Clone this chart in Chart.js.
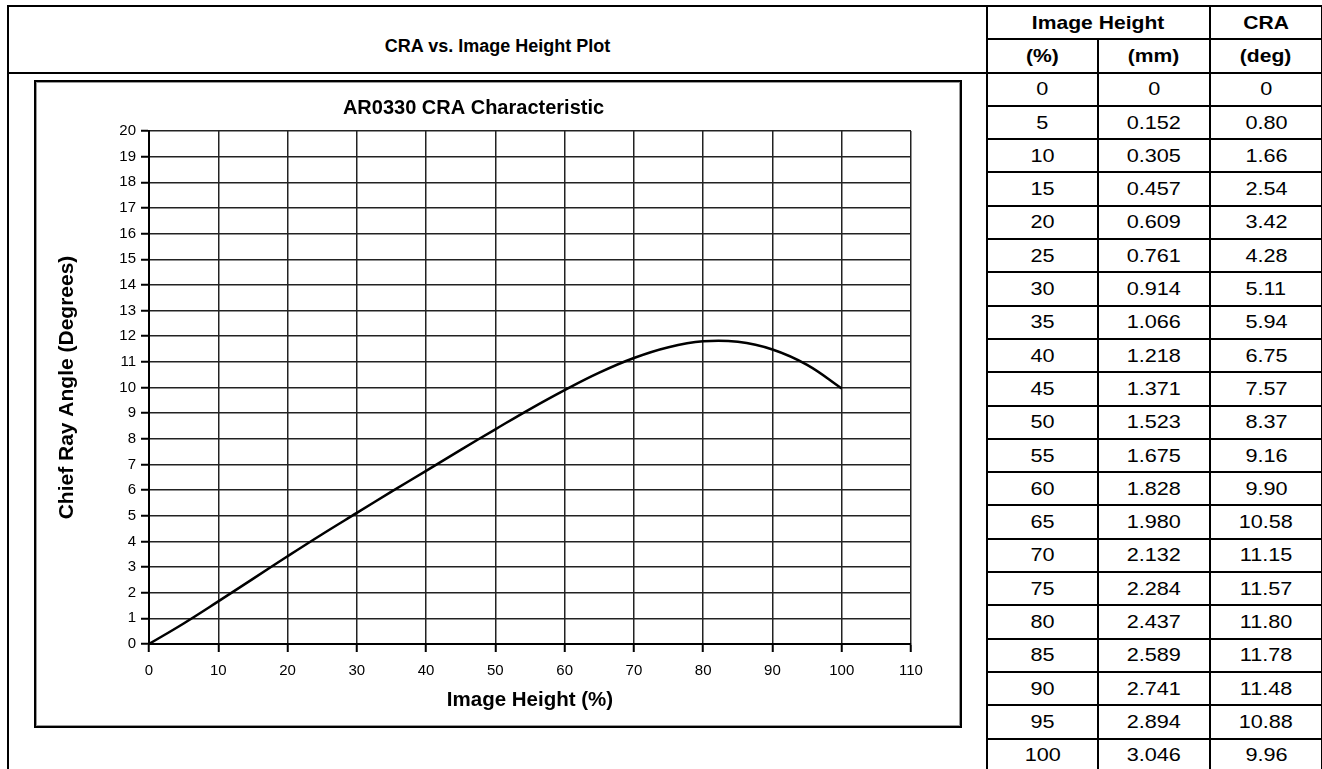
<!DOCTYPE html>
<html>
<head>
<meta charset="utf-8">
<script src="https://cdn.jsdelivr.net/npm/chart.js@4.4.1/dist/chart.umd.min.js"></script>
<style>
  html, body { margin: 0; padding: 0; background: #fff; }
  body { width: 1322px; height: 769px; position: relative; overflow: hidden; font-family: "Liberation Sans", Arial, sans-serif; color: #000; }
  #sheet { position: absolute; left: 7px; top: 5px; border-collapse: collapse; table-layout: fixed; width: 1314px; }
  #sheet td { border: 2px solid #000; padding: 0; text-align: center; vertical-align: middle; height: 31.3px; font-size: 19px; }
  #sheet td.hd { font-weight: bold; font-size: 18.5px; }
  #sheet td.plotHead { font-weight: bold; font-size: 18px; vertical-align: bottom; padding-bottom: 15px; }
  #sheet td.plotCell { border-bottom: none; }
  .w { display: inline-block; transform: scaleX(1.14); }
  #box { position: absolute; left: 34px; top: 80px; width: 924px; height: 644px; border: 2px solid #000; box-shadow: inset 0 0 0 1px #999; background: #fff; }
  #box canvas { position: absolute; left: 0; top: 0; }
</style>
</head>
<body>
<table id="sheet">
  <colgroup><col style="width:979px"><col style="width:111px"><col style="width:112px"><col style="width:112px"></colgroup>
  <tbody id="rows"></tbody>
</table>
<div id="box"><canvas id="cra-chart" width="924" height="644"></canvas></div>
<script>
const heightPct = [0, 5, 10, 15, 20, 25, 30, 35, 40, 45, 50, 55, 60, 65, 70, 75, 80, 85, 90, 95, 100];
const heightMm = [0, 0.152, 0.305, 0.457, 0.609, 0.761, 0.914, 1.066, 1.218, 1.371, 1.523, 1.675, 1.828, 1.980, 2.132, 2.284, 2.437, 2.589, 2.741, 2.894, 3.046];
const craDeg = [0, 0.80, 1.66, 2.54, 3.42, 4.28, 5.11, 5.94, 6.75, 7.57, 8.37, 9.16, 9.90, 10.58, 11.15, 11.57, 11.80, 11.78, 11.48, 10.88, 9.96];

const xTicks = { min: 0, max: 110, step: 10 };
const yTicks = { min: 0, max: 20, step: 1 };

const FONT = '"Liberation Sans", Arial, sans-serif';

function fmt(v, digits) {
    return v === 0 ? '0' : v.toFixed(digits);
}

// build the table on the right
const tbody = document.getElementById('rows');
let html = '';
html += '<tr><td class="hd plotHead" rowspan="2">CRA vs. Image Height Plot</td>' +
        '<td class="hd" colspan="2"><span class="w">Image Height</span></td>' +
        '<td class="hd"><span class="w">CRA</span></td></tr>';
html += '<tr><td class="hd"><span class="w">(%)</span></td><td class="hd"><span class="w">(mm)</span></td>' +
        '<td class="hd"><span class="w">(deg)</span></td></tr>';
heightPct.forEach((p, i) => {
    html += '<tr>';
    if (i === 0) html += `<td class="plotCell" rowspan="${heightPct.length}"></td>`;
    html += `<td><span class="w">${p}</span></td><td><span class="w">${fmt(heightMm[i], 3)}</span></td><td><span class="w">${fmt(craDeg[i], 2)}</span></td>`;
    html += '</tr>';
});
tbody.innerHTML = html;

// the plot
const ctx = document.getElementById('cra-chart').getContext('2d');
new Chart(ctx, {
    type: 'line',
    data: {
        datasets: [{
            data: heightPct.map((p, i) => ({ x: p, y: craDeg[i] })),
            borderColor: '#000',
            borderWidth: 2.5,
            pointRadius: 0,
            fill: false,
            tension: 0.4
        }]
    },
    options: {
        responsive: false,
        animation: false,
        layout: { padding: { left: 0, right: 49, top: 0, bottom: 0 } },
        plugins: {
            legend: { display: false },
            tooltip: { enabled: false },
            title: {
                display: true,
                text: 'AR0330 CRA Characteristic',
                color: '#000',
                font: { family: FONT, size: 20, weight: 'bold' },
                padding: { top: 14, bottom: 11 }
            }
        },
        scales: {
            x: {
                type: 'linear',
                min: xTicks.min,
                max: xTicks.max,
                ticks: { stepSize: xTicks.step, color: '#000', font: { family: FONT, size: 15 }, padding: 10, maxRotation: 0 },
                grid: { color: '#222', lineWidth: 1.5, tickLength: 8, tickColor: '#000', tickWidth: 2 },
                border: { color: '#000', width: 2 },
                title: {
                    display: true,
                    text: 'Image Height (%)',
                    color: '#000',
                    font: { family: FONT, size: 20.5, weight: 'bold' },
                    padding: { top: 0, bottom: 13 }
                },
                afterFit(scale) { scale.height = 82; }
            },
            y: {
                min: yTicks.min,
                max: yTicks.max,
                ticks: { stepSize: yTicks.step, color: '#000', font: { family: FONT, size: 15 }, padding: 5 },
                grid: { color: '#222', lineWidth: 1.5, tickLength: 8, tickColor: '#000', tickWidth: 2 },
                border: { color: '#000', width: 2 },
                title: {
                    display: true,
                    text: 'Chief Ray Angle (Degrees)',
                    color: '#000',
                    font: { family: FONT, size: 21, weight: 'bold' },
                    padding: { top: 19, bottom: 0 }
                },
                afterFit(scale) { scale.width = 113; }
            }
        }
    }
});
</script>
</body>
</html>
